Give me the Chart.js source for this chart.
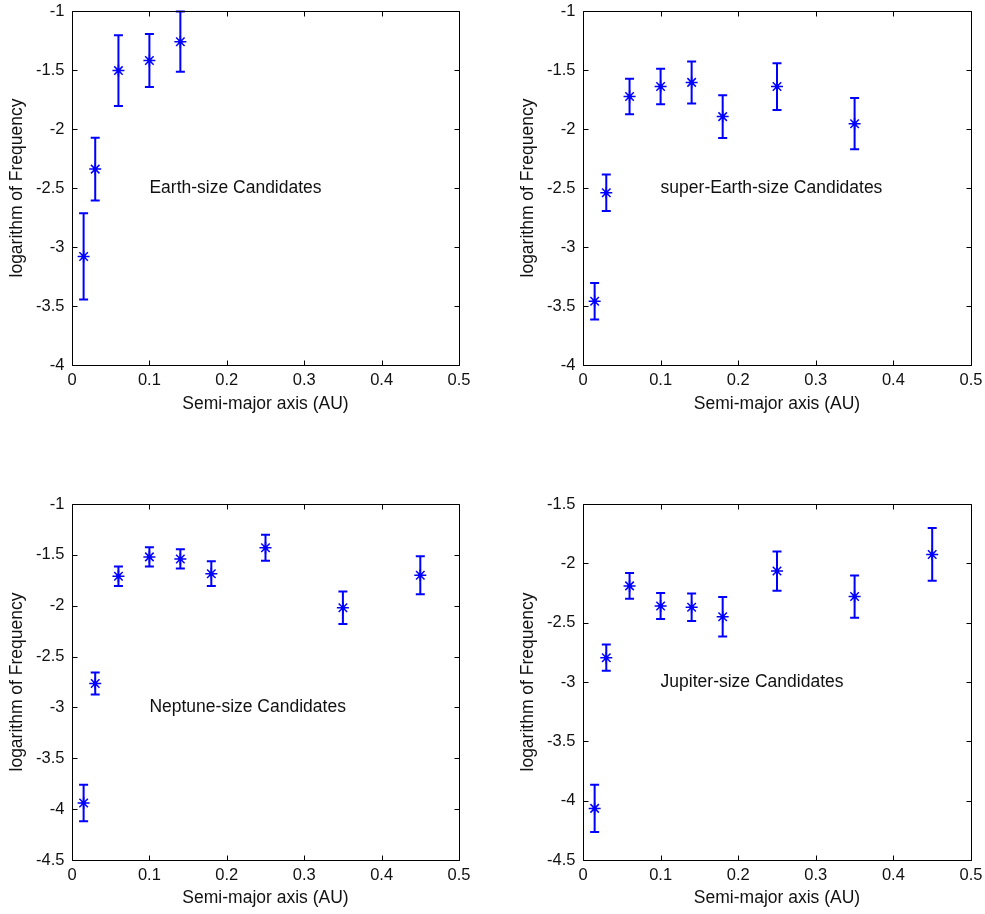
<!DOCTYPE html>
<html><head><meta charset="utf-8">
<script src="https://cdn.jsdelivr.net/npm/chart.js@4.4.1/dist/chart.umd.min.js"></script>
<style>
html,body{margin:0;padding:0;background:#fff;width:985px;height:914px;overflow:hidden}
canvas{position:absolute;display:block}
</style></head><body>
<canvas id="c1" width="492" height="420" style="left:0;top:0;width:492px;height:420px"></canvas>
<canvas id="c2" width="474" height="420" style="left:511px;top:0;width:474px;height:420px"></canvas>
<canvas id="c3" width="492" height="457" style="left:0;top:457px;width:492px;height:457px"></canvas>
<canvas id="c4" width="474" height="457" style="left:511px;top:457px;width:474px;height:457px"></canvas>
<script>
// ---- data ----
const semiMajorAxis = [0.015, 0.03, 0.06, 0.1, 0.14, 0.18, 0.25, 0.35, 0.45];

const earthLogFreq = [-3.08, -2.34, -1.505, -1.42, -1.26];
const earthErr     = [0.365, 0.265, 0.30, 0.225, 0.255];

const superEarthLogFreq = [-3.46, -2.54, -1.725, -1.64, -1.605, -1.895, -1.64, -1.955];
const superEarthErr     = [0.155, 0.155, 0.15, 0.15, 0.178, 0.182, 0.198, 0.217];

const neptuneLogFreq = [-3.94, -2.765, -1.71, -1.52, -1.54, -1.685, -1.43, -2.02, -1.70];
const neptuneErr     = [0.18, 0.108, 0.095, 0.095, 0.094, 0.122, 0.128, 0.16, 0.187];

const jupiterLogFreq = [-4.065, -2.795, -2.19, -2.36, -2.37, -2.45, -2.065, -2.28, -1.925];
const jupiterErr     = [0.2, 0.11, 0.109, 0.11, 0.115, 0.167, 0.165, 0.178, 0.222];

const xTickValues = [0, 0.1, 0.2, 0.3, 0.4, 0.5];
const xTickLabels = ['0', '0.1', '0.2', '0.3', '0.4', '0.5'];
const yTicksA = [-4, -3.5, -3, -2.5, -2, -1.5, -1];
const yTicksB = [-4.5, -4, -3.5, -3, -2.5, -2, -1.5, -1];
const yTicksC = [-4.5, -4, -3.5, -3, -2.5, -2, -1.5];

const panelLabels = ['Earth-size Candidates', 'super-Earth-size Candidates', 'Neptune-size Candidates', 'Jupiter-size Candidates'];
const panelLabelAt = [[0.1, -2.5], [0.1, -2.5], [0.1, -3.0], [0.1, -3.0]];

const xTitle = 'Semi-major axis (AU)';
const yTitle = 'logarithm of Frequency';

// ---- styles ----
const BLUE = 'rgb(0,0,255)';
const FONT = "'Liberation Sans', Arial, Helvetica, sans-serif";
const TICK_FONT = {family: FONT, size: 16.5, lineHeight: 1.2};
const TITLE_FONT = {family: FONT, size: 17.5, lineHeight: 1.2};

const boxPlugin = {
  id: 'matlabBox',
  afterDatasetsDraw(chart) {
    const ctx = chart.ctx, a = chart.chartArea;
    const xs = chart.scales.x, ys = chart.scales.y;
    ctx.save();
    ctx.beginPath(); ctx.rect(a.left, a.top - 1, a.right - a.left, a.bottom - a.top + 2); ctx.clip();
    ctx.strokeStyle = BLUE; ctx.fillStyle = BLUE; ctx.lineWidth = 2;
    const ds = chart.data.datasets[0];
    ds.data.forEach((p, i) => {
      const e = ds.errors[i];
      const px = xs.getPixelForValue(p.x);
      const y1 = ys.getPixelForValue(p.y + e), y2 = ys.getPixelForValue(p.y - e);
      ctx.beginPath();
      ctx.moveTo(px, y1); ctx.lineTo(px, y2);
      ctx.moveTo(px - 4.5, y1); ctx.lineTo(px + 4.5, y1);
      ctx.moveTo(px - 4.5, y2); ctx.lineTo(px + 4.5, y2);
      ctx.stroke();
      const py = ys.getPixelForValue(p.y);
      ctx.beginPath(); ctx.arc(px, py, 2.2, 0, Math.PI * 2); ctx.fill();
    });
    ctx.restore();
  },
  afterDraw(chart) {
    const ctx = chart.ctx, a = chart.chartArea;
    const xs = chart.scales.x, ys = chart.scales.y;
    ctx.save();
    ctx.strokeStyle = '#000'; ctx.lineWidth = 1;
    const L = Math.round(a.left) + 0.5, R = Math.round(a.right) + 0.5;
    const T = Math.round(a.top) + 0.5, B = Math.round(a.bottom) + 0.5;
    ctx.beginPath(); ctx.rect(L, T, R - L, B - T); ctx.stroke();
    ctx.beginPath();
    xs.ticks.forEach(t => {
      const px = Math.round(xs.getPixelForValue(t.value)) + 0.5;
      ctx.moveTo(px, B); ctx.lineTo(px, B - 5);
      ctx.moveTo(px, T); ctx.lineTo(px, T + 5);
    });
    ys.ticks.forEach(t => {
      const py = Math.round(ys.getPixelForValue(t.value)) + 0.5;
      ctx.moveTo(L, py); ctx.lineTo(L + 5, py);
      ctx.moveTo(R, py); ctx.lineTo(R - 5, py);
    });
    ctx.stroke();
    const lab = chart.options.plugins.matlabBox;
    ctx.fillStyle = '#111';
    ctx.font = `${TITLE_FONT.size}px ${FONT}`;
    ctx.textAlign = 'left'; ctx.textBaseline = 'middle';
    ctx.fillText(lab.text, xs.getPixelForValue(lab.at[0]), ys.getPixelForValue(lab.at[1]));
    ctx.restore();
  }
};

function zeroPad(s) { s.paddingTop = 0; s.paddingBottom = 0; s.paddingLeft = 0; s.paddingRight = 0; }

function makeChart(id, yVals, errs, yTicks, labelIdx, pad, xAxisH) {
  const pts = yVals.map((v, i) => ({x: semiMajorAxis[i], y: v}));
  const yLabels = yTicks.map(v => String(v));
  new Chart(document.getElementById(id), {
    type: 'scatter',
    data: {datasets: [{
      data: pts, errors: errs,
      pointStyle: 'star', pointRadius: 6, pointHoverRadius: 6,
      borderColor: BLUE, backgroundColor: BLUE, pointBorderWidth: 1.5,
      showLine: false
    }]},
    options: {
      responsive: false, animation: false, events: [],
      layout: {padding: pad},
      plugins: {legend: {display: false}, tooltip: {enabled: false},
        matlabBox: {text: panelLabels[labelIdx], at: panelLabelAt[labelIdx]}},
      scales: {
        x: {
          type: 'linear', min: 0, max: 0.5,
          afterBuildTicks: s => { s.ticks = xTickValues.map(v => ({value: v})); },
          afterFit: s => { s.height = xAxisH; zeroPad(s); },
          grid: {display: false, drawTicks: false},
          border: {display: false},
          ticks: {padding: 6, color: '#111', font: TICK_FONT, maxRotation: 0, autoSkip: false,
            callback: (v) => { const i = xTickValues.indexOf(v); return i >= 0 ? xTickLabels[i] : ''; }},
          title: {display: true, text: xTitle, color: '#111', font: TITLE_FONT, padding: {top: 0, bottom: 5.5}}
        },
        y: {
          type: 'linear', min: yTicks[0], max: yTicks[yTicks.length - 1],
          afterBuildTicks: s => { s.ticks = yTicks.map(v => ({value: v})); },
          afterFit: s => { s.width = 72; zeroPad(s); },
          grid: {display: false, drawTicks: false},
          border: {display: false},
          ticks: {padding: 7.5, color: '#111', font: TICK_FONT, autoSkip: false,
            callback: (v) => { const i = yTicks.indexOf(v); return i >= 0 ? yLabels[i] : ''; }},
          title: {display: true, text: yTitle, color: '#111', font: TITLE_FONT, padding: {top: 6.5, bottom: 0}}
        }
      }
    },
    plugins: [boxPlugin]
  });
}

makeChart('c1', earthLogFreq, earthErr, yTicksA, 0, {top: 11, right: 33, left: 0, bottom: 0}, 55);
makeChart('c2', superEarthLogFreq, superEarthErr, yTicksA, 1, {top: 11, right: 14, left: 0, bottom: 0}, 55);
makeChart('c3', neptuneLogFreq, neptuneErr, yTicksB, 2, {top: 47, right: 33, left: 0, bottom: 0}, 54);
makeChart('c4', jupiterLogFreq, jupiterErr, yTicksC, 3, {top: 47, right: 14, left: 0, bottom: 0}, 54);
</script>
</body></html>
